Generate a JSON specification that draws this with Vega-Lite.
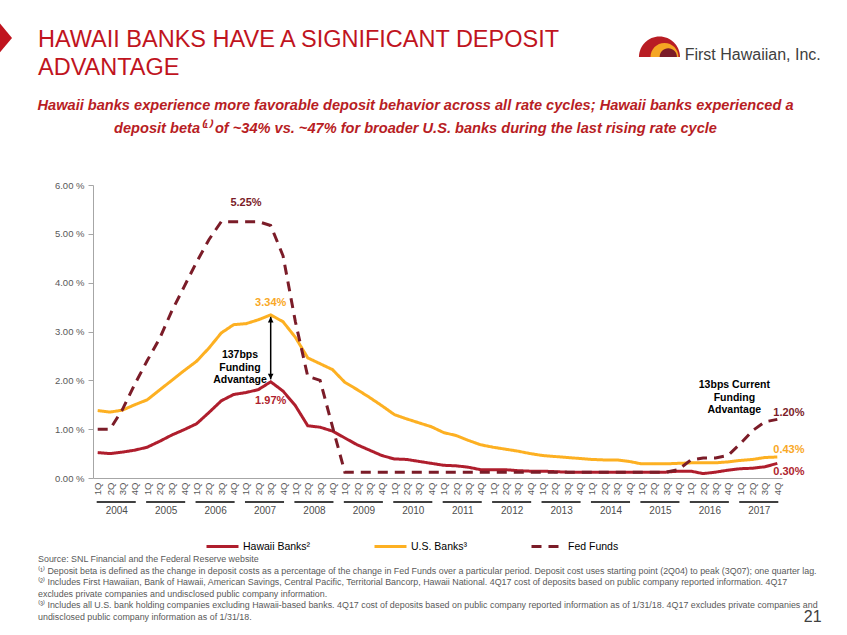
{
  "$schema": "https://vega.github.io/schema/vega-lite/v6.json",
  "padding": 0,
  "background": "white",
  "config": {"view": {"stroke": null}, "font": "Liberation Sans"},
  "datasets": {
    "rates": [
      {"q":"2004 1Q","hawaii":0.52,"us":1.38,"fed":1.00},
      {"q":"2004 2Q","hawaii":0.50,"us":1.35,"fed":1.00},
      {"q":"2004 3Q","hawaii":0.53,"us":1.39,"fed":1.40},
      {"q":"2004 4Q","hawaii":0.57,"us":1.50,"fed":1.92},
      {"q":"2005 1Q","hawaii":0.63,"us":1.60,"fed":2.40},
      {"q":"2005 2Q","hawaii":0.75,"us":1.80,"fed":2.85},
      {"q":"2005 3Q","hawaii":0.88,"us":2.00,"fed":3.42},
      {"q":"2005 4Q","hawaii":0.99,"us":2.20,"fed":3.92},
      {"q":"2006 1Q","hawaii":1.11,"us":2.39,"fed":4.42},
      {"q":"2006 2Q","hawaii":1.34,"us":2.66,"fed":4.88},
      {"q":"2006 3Q","hawaii":1.58,"us":2.97,"fed":5.25},
      {"q":"2006 4Q","hawaii":1.71,"us":3.14,"fed":5.25},
      {"q":"2007 1Q","hawaii":1.75,"us":3.16,"fed":5.25},
      {"q":"2007 2Q","hawaii":1.81,"us":3.24,"fed":5.25},
      {"q":"2007 3Q","hawaii":1.97,"us":3.34,"fed":5.17},
      {"q":"2007 4Q","hawaii":1.78,"us":3.20,"fed":4.55},
      {"q":"2008 1Q","hawaii":1.48,"us":2.88,"fed":3.20},
      {"q":"2008 2Q","hawaii":1.07,"us":2.46,"fed":2.08},
      {"q":"2008 3Q","hawaii":1.04,"us":2.34,"fed":2.00},
      {"q":"2008 4Q","hawaii":0.96,"us":2.22,"fed":1.05},
      {"q":"2009 1Q","hawaii":0.82,"us":1.96,"fed":0.12},
      {"q":"2009 2Q","hawaii":0.68,"us":1.81,"fed":0.12},
      {"q":"2009 3Q","hawaii":0.57,"us":1.65,"fed":0.12},
      {"q":"2009 4Q","hawaii":0.46,"us":1.48,"fed":0.12},
      {"q":"2010 1Q","hawaii":0.39,"us":1.30,"fed":0.12},
      {"q":"2010 2Q","hawaii":0.38,"us":1.21,"fed":0.12},
      {"q":"2010 3Q","hawaii":0.34,"us":1.13,"fed":0.12},
      {"q":"2010 4Q","hawaii":0.30,"us":1.05,"fed":0.12},
      {"q":"2011 1Q","hawaii":0.26,"us":0.93,"fed":0.12},
      {"q":"2011 2Q","hawaii":0.25,"us":0.87,"fed":0.12},
      {"q":"2011 3Q","hawaii":0.22,"us":0.77,"fed":0.12},
      {"q":"2011 4Q","hawaii":0.17,"us":0.68,"fed":0.12},
      {"q":"2012 1Q","hawaii":0.17,"us":0.63,"fed":0.12},
      {"q":"2012 2Q","hawaii":0.17,"us":0.59,"fed":0.12},
      {"q":"2012 3Q","hawaii":0.15,"us":0.55,"fed":0.12},
      {"q":"2012 4Q","hawaii":0.14,"us":0.50,"fed":0.12},
      {"q":"2013 1Q","hawaii":0.14,"us":0.46,"fed":0.12},
      {"q":"2013 2Q","hawaii":0.13,"us":0.44,"fed":0.12},
      {"q":"2013 3Q","hawaii":0.12,"us":0.42,"fed":0.12},
      {"q":"2013 4Q","hawaii":0.12,"us":0.40,"fed":0.12},
      {"q":"2014 1Q","hawaii":0.12,"us":0.38,"fed":0.12},
      {"q":"2014 2Q","hawaii":0.12,"us":0.37,"fed":0.12},
      {"q":"2014 3Q","hawaii":0.12,"us":0.37,"fed":0.12},
      {"q":"2014 4Q","hawaii":0.12,"us":0.34,"fed":0.12},
      {"q":"2015 1Q","hawaii":0.12,"us":0.29,"fed":0.12},
      {"q":"2015 2Q","hawaii":0.12,"us":0.29,"fed":0.12},
      {"q":"2015 3Q","hawaii":0.12,"us":0.29,"fed":0.12},
      {"q":"2015 4Q","hawaii":0.14,"us":0.30,"fed":0.17},
      {"q":"2016 1Q","hawaii":0.14,"us":0.31,"fed":0.37},
      {"q":"2016 2Q","hawaii":0.09,"us":0.31,"fed":0.41},
      {"q":"2016 3Q","hawaii":0.12,"us":0.31,"fed":0.41},
      {"q":"2016 4Q","hawaii":0.16,"us":0.33,"fed":0.46},
      {"q":"2017 1Q","hawaii":0.19,"us":0.36,"fed":0.70},
      {"q":"2017 2Q","hawaii":0.20,"us":0.38,"fed":0.97},
      {"q":"2017 3Q","hawaii":0.23,"us":0.42,"fed":1.15},
      {"q":"2017 4Q","hawaii":0.30,"us":0.43,"fed":1.20}
    ],
    "years": [
      {"year":"2004","first":"2004 1Q","last":"2004 4Q"},
      {"year":"2005","first":"2005 1Q","last":"2005 4Q"},
      {"year":"2006","first":"2006 1Q","last":"2006 4Q"},
      {"year":"2007","first":"2007 1Q","last":"2007 4Q"},
      {"year":"2008","first":"2008 1Q","last":"2008 4Q"},
      {"year":"2009","first":"2009 1Q","last":"2009 4Q"},
      {"year":"2010","first":"2010 1Q","last":"2010 4Q"},
      {"year":"2011","first":"2011 1Q","last":"2011 4Q"},
      {"year":"2012","first":"2012 1Q","last":"2012 4Q"},
      {"year":"2013","first":"2013 1Q","last":"2013 4Q"},
      {"year":"2014","first":"2014 1Q","last":"2014 4Q"},
      {"year":"2015","first":"2015 1Q","last":"2015 4Q"},
      {"year":"2016","first":"2016 1Q","last":"2016 4Q"},
      {"year":"2017","first":"2017 1Q","last":"2017 4Q"}
    ]
  },
  "bounds": "flush",
  "spacing": 0,
  "vconcat": [
    {
      "width": 754,
      "height": 185,
      "layer": [
        {
          "data": {"values": [{"part": "arrow"}]},
          "mark": {"type": "point", "shape": "M-0.5,-1.2L0.5,0L-0.5,1.2Z", "filled": true, "color": "#C0141E", "opacity": 1, "size": 576, "strokeWidth": 0},
          "encoding": {
            "x": {"datum": 0.71, "type": "quantitative", "scale": {"domain": [0, 100], "range": [-93, 754]}, "axis": null},
            "y": {"datum": 20.5, "type": "quantitative", "scale": {"domain": [0, 100], "range": [0, 185]}, "axis": null}
          }
        },
        {
          "data": {"values": [{"t": "HAWAII BANKS HAVE A SIGNIFICANT DEPOSIT\nADVANTAGE"}]},
          "mark": {"type": "text", "align": "left", "baseline": "top", "lineBreak": "\n", "lineHeight": 28, "fontSize": 23.5, "font": "Liberation Sans", "color": "#C0141E"},
          "encoding": {
            "x": {"datum": 4.49, "type": "quantitative"},
            "y": {"datum": 15.4, "type": "quantitative"},
            "text": {"field": "t"}
          }
        },
        {
          "data": {"values": [{"part": "outer"}]},
          "mark": {"type": "point", "shape": "M-1,0A1,1,0,0,1,1,0Z", "filled": true, "color": "#B81D24", "opacity": 1, "size": 1681, "strokeWidth": 0},
          "encoding": {
            "x": {"datum": 77.86, "type": "quantitative"},
            "y": {"datum": 30.8, "type": "quantitative"}
          }
        },
        {
          "data": {"values": [{"part": "middle"}]},
          "mark": {"type": "point", "shape": "M-1,0A1,1,0,0,1,1,0Z", "filled": true, "color": "#F5A623", "opacity": 1, "size": 784, "strokeWidth": 0},
          "encoding": {
            "x": {"datum": 78.45, "type": "quantitative"},
            "y": {"datum": 30.8, "type": "quantitative"}
          }
        },
        {
          "data": {"values": [{"part": "inner"}]},
          "mark": {"type": "point", "shape": "M-1,0A1,1,0,0,1,1,0Z", "filled": true, "color": "#7B1C28", "opacity": 1, "size": 300, "strokeWidth": 0},
          "encoding": {
            "x": {"datum": 78.9, "type": "quantitative"},
            "y": {"datum": 30.8, "type": "quantitative"}
          }
        },
        {
          "data": {"values": [{"t": "First Hawaiian, Inc."}]},
          "mark": {"type": "text", "align": "right", "baseline": "middle", "fontSize": 16, "font": "Liberation Sans", "color": "#404040"},
          "encoding": {
            "x": {"datum": 96.9, "type": "quantitative"},
            "y": {"datum": 29.7, "type": "quantitative"},
            "text": {"field": "t"}
          }
        }
      ]
    },
    {
      "width": 689,
      "height": 293,
      "title": {
        "text": ["Hawaii banks experience more favorable deposit behavior across all rate cycles; Hawaii banks experienced a", "deposit beta⁽¹⁾ of ~34% vs. ~47% for broader U.S. banks during the last rising rate cycle"],
        "font": "Liberation Sans",
        "fontSize": 14.6,
        "fontStyle": "italic",
        "fontWeight": "bold",
        "color": "#B81D24",
        "lineHeight": 23,
        "anchor": "middle",
        "frame": "group",
        "dx": -22,
        "offset": 44
      },
      "data": {"name": "rates"},
      "layer": [
        {
          "transform": [{"fold": ["hawaii", "us", "fed"], "as": ["series", "rate"]}],
          "mark": {"type": "line", "strokeWidth": 3, "strokeCap": "butt"},
          "encoding": {
            "x": {
              "field": "q", "type": "ordinal",
              "scale": {"type": "point", "padding": 0.38},
              "axis": {
                "orient": "bottom",
                "title": null, "labelExpr": "slice(datum.value, 5)", "labelAngle": -90,
                "labelFontSize": 9.5, "labelColor": "#595959", "labelFont": "Liberation Sans",
                "ticks": false, "domainColor": "#A6A6A6", "labelPadding": 4, "labelOverlap": false, "grid": false
              }
            },
            "y": {
              "field": "rate", "type": "quantitative",
              "scale": {"domain": [0, 6], "nice": false},
              "axis": {
                "title": null, "values": [0, 0.5, 1, 1.5, 2, 2.5, 3, 3.5, 4, 4.5, 5, 5.5, 6],
                "labelExpr": "format(datum.value, '.2f') + ' %'",
                "labelFontSize": 9.5, "labelColor": "#595959", "labelFont": "Liberation Sans",
                "tickSize": 5, "tickColor": "#A6A6A6", "domainColor": "#A6A6A6", "labelPadding": 4, "grid": false
              }
            },
            "color": {
              "field": "series", "type": "nominal",
              "scale": {"domain": ["hawaii", "us", "fed"], "range": ["#AF1E2D", "#FDB022", "#7B1C28"]},
              "legend": {
                "orient": "none", "legendX": 112, "legendY": 529, "direction": "horizontal", "title": null,
                "symbolSize": 1024, "symbolStrokeWidth": 3, "labelFontSize": 10.5, "labelColor": "black",
                "labelFont": "Liberation Sans", "columnPadding": 57, "gridAlign": "none", "labelOffset": 3,
                "labelExpr": "datum.label == 'hawaii' ? 'Hawaii Banks²' : datum.label == 'us' ? 'U.S. Banks³' : 'Fed Funds'"
              }
            },
            "strokeDash": {
              "field": "series", "type": "nominal",
              "scale": {"domain": ["hawaii", "us", "fed"], "range": [[1, 0], [1, 0], [10, 7]]},
              "legend": {
                "orient": "none", "legendX": 112, "legendY": 529, "direction": "horizontal", "title": null,
                "symbolSize": 1024, "symbolStrokeWidth": 3, "labelFontSize": 10.5, "labelColor": "black",
                "labelFont": "Liberation Sans", "columnPadding": 57, "gridAlign": "none", "labelOffset": 3,
                "labelExpr": "datum.label == 'hawaii' ? 'Hawaii Banks²' : datum.label == 'us' ? 'U.S. Banks³' : 'Fed Funds'"
              }
            }
          }
        },
        {
          "data": {"name": "years"},
          "mark": {"type": "rule", "color": "#404040", "strokeWidth": 2, "strokeCap": "square"},
          "encoding": {
            "x": {"field": "first", "type": "ordinal", "axis": null},
            "x2": {"field": "last"},
            "y": {"datum": -0.49, "type": "quantitative"}
          }
        },
        {
          "data": {"values": [{"q": "2007 1Q", "v": 5.25, "label": "5.25%"}]},
          "mark": {"type": "text", "fontSize": 11, "fontWeight": "bold", "color": "#7B1C28", "dy": -19, "align": "center", "baseline": "middle"},
          "encoding": {
            "x": {
              "field": "q", "type": "ordinal",
              "axis": {
                "orient": "bottom",
                "title": null,
                "labelExpr": "slice(datum.value, 5) == '2Q' ? slice(datum.value, 0, 4) : ''",
                "labelAngle": 0, "labelAlign": "center", "labelBaseline": "middle", "labelOffset": 6.2,
                "labelFontSize": 10, "labelColor": "#4D4D4D", "labelFont": "Liberation Sans",
                "ticks": false, "domain": false, "labelPadding": 32, "labelOverlap": false, "grid": false
              }
            },
            "y": {"field": "v", "type": "quantitative"},
            "text": {"field": "label"}
          }
        },
        {
          "data": {"values": [{"q": "2007 3Q", "v": 3.34, "label": "3.34%"}]},
          "mark": {"type": "text", "fontSize": 11, "fontWeight": "bold", "color": "#F9A825", "dy": -12, "align": "center", "baseline": "middle"},
          "encoding": {
            "x": {"field": "q", "type": "ordinal", "axis": null},
            "y": {"field": "v", "type": "quantitative"},
            "text": {"field": "label"}
          }
        },
        {
          "data": {"values": [{"q": "2007 3Q", "v": 1.97, "label": "1.97%"}]},
          "mark": {"type": "text", "fontSize": 11, "fontWeight": "bold", "color": "#AF1E2D", "dy": 19, "align": "center", "baseline": "middle"},
          "encoding": {
            "x": {"field": "q", "type": "ordinal", "axis": null},
            "y": {"field": "v", "type": "quantitative"},
            "text": {"field": "label"}
          }
        },
        {
          "data": {"values": [{"q": "2017 4Q", "v": 1.20, "label": "1.20%"}]},
          "mark": {"type": "text", "fontSize": 11, "fontWeight": "bold", "color": "#7B1C28", "dx": -4, "dy": -6, "align": "left", "baseline": "middle"},
          "encoding": {
            "x": {"field": "q", "type": "ordinal", "axis": null},
            "y": {"field": "v", "type": "quantitative"},
            "text": {"field": "label"}
          }
        },
        {
          "data": {"values": [{"q": "2017 4Q", "v": 0.43, "label": "0.43%"}]},
          "mark": {"type": "text", "fontSize": 11, "fontWeight": "bold", "color": "#F9A825", "dx": -4, "dy": -7, "align": "left", "baseline": "middle"},
          "encoding": {
            "x": {"field": "q", "type": "ordinal", "axis": null},
            "y": {"field": "v", "type": "quantitative"},
            "text": {"field": "label"}
          }
        },
        {
          "data": {"values": [{"q": "2017 4Q", "v": 0.30, "label": "0.30%"}]},
          "mark": {"type": "text", "fontSize": 11, "fontWeight": "bold", "color": "#AF1E2D", "dx": -4, "dy": 9, "align": "left", "baseline": "middle"},
          "encoding": {
            "x": {"field": "q", "type": "ordinal", "axis": null},
            "y": {"field": "v", "type": "quantitative"},
            "text": {"field": "label"}
          }
        },
        {
          "data": {"values": [{"q": "2007 1Q", "v": 2.51, "label": "137bps\nFunding\nAdvantage"}]},
          "mark": {"type": "text", "fontSize": 10.5, "fontWeight": "bold", "color": "black", "dx": -6, "align": "center", "baseline": "middle", "lineBreak": "\n", "lineHeight": 12.3},
          "encoding": {
            "x": {"field": "q", "type": "ordinal", "axis": null},
            "y": {"field": "v", "type": "quantitative"},
            "text": {"field": "label"}
          }
        },
        {
          "data": {"values": [{"q": "2016 4Q", "v": 1.90, "label": "13bps Current\nFunding\nAdvantage"}]},
          "mark": {"type": "text", "fontSize": 10.5, "fontWeight": "bold", "color": "black", "dx": 6.5, "align": "center", "baseline": "middle", "lineBreak": "\n", "lineHeight": 12.5},
          "encoding": {
            "x": {"field": "q", "type": "ordinal", "axis": null},
            "y": {"field": "v", "type": "quantitative"},
            "text": {"field": "label"}
          }
        },
        {
          "data": {"values": [{"q": "2007 3Q", "top": 3.30, "bottom": 2.02}]},
          "mark": {"type": "rule", "color": "black", "strokeWidth": 1.5},
          "encoding": {
            "x": {"field": "q", "type": "ordinal", "axis": null},
            "y": {"field": "top", "type": "quantitative"},
            "y2": {"field": "bottom"}
          }
        },
        {
          "data": {"values": [{"q": "2007 3Q", "v": 3.30}]},
          "mark": {"type": "point", "shape": "M0,0L-0.8,1.6L0.8,1.6Z", "filled": true, "color": "black", "opacity": 1, "size": 49, "strokeWidth": 0},
          "encoding": {
            "x": {"field": "q", "type": "ordinal", "axis": null},
            "y": {"field": "v", "type": "quantitative"}
          }
        },
        {
          "data": {"values": [{"q": "2007 3Q", "v": 2.02}]},
          "mark": {"type": "point", "shape": "M0,0L-0.8,-1.6L0.8,-1.6Z", "filled": true, "color": "black", "opacity": 1, "size": 49, "strokeWidth": 0},
          "encoding": {
            "x": {"field": "q", "type": "ordinal", "axis": null},
            "y": {"field": "v", "type": "quantitative"}
          }
        }
      ],
      "resolve": {"axis": {"x": "independent"}}
    },
    {
      "width": 754,
      "height": 147,
      "layer": [
        {
          "data": {"values": [
            {"i": 0, "t": "Source: SNL Financial and the Federal Reserve website"},
            {"i": 1, "t": "⁽¹⁾ Deposit beta is defined as the change in deposit costs as a percentage of the change in Fed Funds over a particular period. Deposit cost uses starting point (2Q04) to peak (3Q07); one quarter lag."},
            {"i": 2, "t": "⁽²⁾ Includes First Hawaiian, Bank of Hawaii, American Savings, Central Pacific, Territorial Bancorp, Hawaii National. 4Q17 cost of deposits based on public company reported information. 4Q17"},
            {"i": 3, "t": "excludes private companies and undisclosed public company information."},
            {"i": 4, "t": "⁽³⁾ Includes all U.S. bank holding companies excluding Hawaii-based banks. 4Q17 cost of deposits based on public company reported information as of 1/31/18. 4Q17 excludes private companies and"},
            {"i": 5, "t": "undisclosed public company information as of 1/31/18."}
          ]},
          "mark": {"type": "text", "align": "left", "baseline": "middle", "font": "Liberation Sans", "fontSize": 8.9, "color": "#595959"},
          "encoding": {
            "x": {"datum": 4.49, "type": "quantitative", "scale": {"domain": [0, 100], "range": [-93, 754]}, "axis": null},
            "y": {"field": "i", "type": "ordinal", "scale": {"type": "point", "range": [81, 139], "padding": 0}, "axis": null},
            "text": {"field": "t"}
          }
        },
        {
          "data": {"values": [{"i": 5, "t": "21"}]},
          "mark": {"type": "text", "align": "right", "baseline": "middle", "font": "Liberation Sans", "fontSize": 16, "color": "#404040"},
          "encoding": {
            "x": {"datum": 97.0, "type": "quantitative"},
            "y": {"field": "i", "type": "ordinal"},
            "text": {"field": "t"}
          }
        }
      ]
    }
  ]
}
